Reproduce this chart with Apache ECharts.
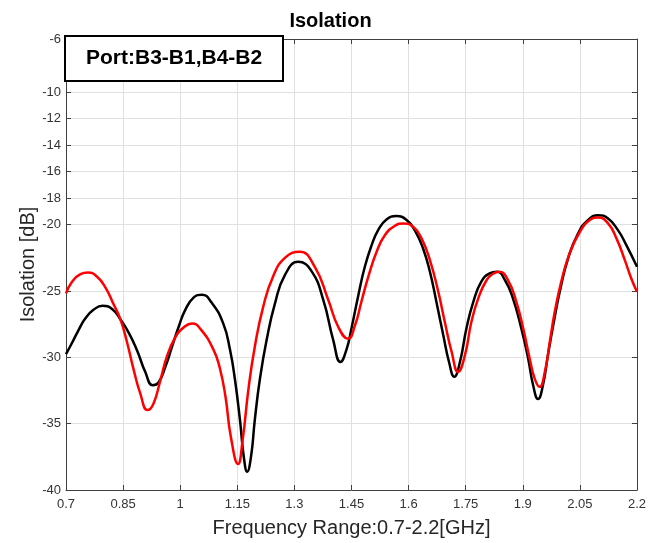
<!DOCTYPE html>
<html>
<head>
<meta charset="utf-8">
<script src="https://cdn.jsdelivr.net/npm/echarts@6/dist/echarts.min.js"></script>
<style>html,body{margin:0;padding:0;background:#fff;}#c{width:661px;height:543px;}</style>
</head>
<body>
<div id="c"></div>
<script>
var xTicks = [0.7, 0.85, 1, 1.15, 1.3, 1.45, 1.6, 1.75, 1.9, 2.05, 2.2];
var yTicks = [-40, -35, -30, -25, -20, -18, -16, -14, -12, -10, -6];

var freqBlack = [0.700, 0.716, 0.733, 0.751, 0.773, 0.796, 0.821, 0.843, 0.865, 0.887, 0.908, 0.928, 0.943, 0.961, 0.978, 0.996, 1.013, 1.035, 1.057, 1.082, 1.113, 1.131, 1.144, 1.157, 1.167, 1.176, 1.186, 1.196, 1.209, 1.227, 1.249, 1.275, 1.310, 1.345, 1.376, 1.402, 1.421, 1.437, 1.450, 1.468, 1.485, 1.503, 1.520, 1.542, 1.568, 1.594, 1.616, 1.638, 1.656, 1.673, 1.691, 1.706, 1.720, 1.735, 1.752, 1.770, 1.791, 1.813, 1.832, 1.853, 1.874, 1.896, 1.914, 1.927, 1.940, 1.953, 1.966, 1.980, 1.997, 2.019, 2.045, 2.071, 2.098, 2.124, 2.150, 2.172, 2.200];
var black = [-29.75, -28.9, -27.94, -27.06, -26.4, -26.11, -26.35, -27.14, -28.15, -29.5, -31.09, -32.1, -31.9, -30.71, -29.25, -27.69, -26.44, -25.5, -25.28, -25.85, -27.44, -29.45, -31.71, -34.72, -37.49, -38.62, -37.49, -34.72, -31.71, -28.7, -25.93, -23.8, -22.8, -23.5, -25.68, -28.7, -30.35, -29.4, -27.81, -25.31, -23.17, -21.54, -20.41, -19.6, -19.35, -19.62, -20.41, -21.79, -23.55, -25.81, -28.32, -30.33, -31.46, -30.33, -27.81, -25.81, -24.3, -23.67, -23.55, -24.17, -25.55, -27.81, -30.08, -32.09, -33.14, -32.09, -29.83, -27.57, -25.06, -22.54, -20.66, -19.65, -19.28, -19.53, -20.41, -21.54, -23.17];

var freqRed = [0.700, 0.716, 0.738, 0.758, 0.781, 0.803, 0.825, 0.843, 0.860, 0.878, 0.895, 0.914, 0.930, 0.948, 0.965, 0.987, 1.009, 1.031, 1.053, 1.087, 1.104, 1.119, 1.133, 1.152, 1.164, 1.179, 1.196, 1.218, 1.244, 1.275, 1.314, 1.354, 1.389, 1.415, 1.441, 1.459, 1.476, 1.494, 1.516, 1.538, 1.564, 1.586, 1.612, 1.634, 1.656, 1.678, 1.695, 1.713, 1.730, 1.748, 1.765, 1.783, 1.805, 1.822, 1.838, 1.861, 1.883, 1.901, 1.918, 1.931, 1.944, 1.958, 1.971, 1.984, 2.001, 2.023, 2.050, 2.076, 2.098, 2.124, 2.146, 2.168, 2.185, 2.200];
var red = [-25.18, -24.3, -23.72, -23.6, -23.9, -24.7, -26.0, -27.14, -28.82, -30.96, -32.71, -33.97, -33.47, -31.71, -29.95, -28.5, -27.75, -27.44, -27.85, -29.4, -30.8, -32.97, -35.98, -38.04, -36.23, -32.46, -29.2, -26.19, -23.9, -22.5, -22.04, -23.2, -25.68, -27.69, -28.6, -27.6, -25.81, -23.93, -22.04, -20.78, -20.08, -19.9, -20.16, -21.03, -22.67, -25.06, -27.32, -29.58, -31.09, -29.83, -27.32, -25.55, -24.17, -23.7, -23.55, -24.17, -25.81, -27.81, -30.08, -31.58, -32.22, -31.09, -28.82, -26.57, -24.3, -22.16, -20.53, -19.65, -19.45, -19.9, -21.03, -22.67, -24.05, -25.06];

function pairs(xs, ys) { return xs.map(function (x, i) { return [x, ys[i]]; }); }

var FONT = '"Liberation Sans", Arial, sans-serif';
var axisCol = '#404040';
var gridCol = '#e0e0e0';

var chart = echarts.init(document.getElementById('c'));
chart.setOption({
  animation: false,
  backgroundColor: '#fff',
  title: [{
    text: 'Isolation', left: 'center', top: 11, padding: 0,
    textStyle: { fontFamily: FONT, fontSize: 20, fontWeight: 'bold', color: '#000' }
  }, {
    text: 'Port:B3-B1,B4-B2', left: 65, top: 36, padding: [12, 21, 12, 21],
    borderColor: '#000', borderWidth: 2, backgroundColor: '#fff',
    textStyle: { fontFamily: FONT, fontSize: 21, fontWeight: 'bold', color: '#000' }
  }],
  grid: { left: 66, right: 24, top: 39, bottom: 53, containLabel: false },
  xAxis: [{
    type: 'value', min: 0.7, max: 2.2, position: 'bottom',
    name: 'Frequency Range:0.7-2.2[GHz]', nameLocation: 'middle', nameGap: 28, nameMoveOverlap: false,
    nameTextStyle: { fontFamily: FONT, fontSize: 20, color: '#262626' },
    axisLine: { show: true, lineStyle: { color: axisCol, width: 1 } },
    axisTick: { show: true, inside: true, length: 5, customValues: xTicks, lineStyle: { color: axisCol } },
    axisLabel: { customValues: xTicks, margin: 8, fontFamily: FONT, fontSize: 13, color: '#333',
      formatter: function (v) { return String(v); } },
    splitLine: { show: true, lineStyle: { color: gridCol, width: 1 } }
  }, {
    type: 'value', min: 0.7, max: 2.2, position: 'top',
    axisLine: { show: true, lineStyle: { color: axisCol, width: 1 } },
    axisTick: { show: true, inside: true, length: 5, customValues: xTicks, lineStyle: { color: axisCol } },
    axisLabel: { show: false },
    splitLine: { show: false }
  }],
  yAxis: [{
    type: 'value', min: -40, max: -6, position: 'left',
    name: 'Isolation [dB]', nameLocation: 'middle', nameGap: 28, nameMoveOverlap: false,
    nameTextStyle: { fontFamily: FONT, fontSize: 20, color: '#262626' },
    axisLine: { show: true, lineStyle: { color: axisCol, width: 1 } },
    axisTick: { show: true, inside: true, length: 5, customValues: yTicks, lineStyle: { color: axisCol } },
    axisLabel: { customValues: yTicks, margin: 5, fontFamily: FONT, fontSize: 13, color: '#333' },
    splitLine: { show: true, lineStyle: { color: gridCol, width: 1 } }
  }, {
    type: 'value', min: -40, max: -6, position: 'right',
    axisLine: { show: true, lineStyle: { color: axisCol, width: 1 } },
    axisTick: { show: true, inside: true, length: 5, customValues: yTicks, lineStyle: { color: axisCol } },
    axisLabel: { show: false },
    splitLine: { show: false }
  }],
  series: [{
    name: 'B3-B1', type: 'line', xAxisIndex: 0, yAxisIndex: 0,
    data: pairs(freqBlack, black), smooth: 0.5, showSymbol: false,
    lineStyle: { color: '#000', width: 2.5 }, itemStyle: { color: '#000' }, z: 3
  }, {
    name: 'B4-B2', type: 'line', xAxisIndex: 0, yAxisIndex: 0,
    data: pairs(freqRed, red), smooth: 0.5, showSymbol: false,
    lineStyle: { color: '#ff0000', width: 2.5 }, itemStyle: { color: '#ff0000' }, z: 4
  }]
});
</script>
</body>
</html>
